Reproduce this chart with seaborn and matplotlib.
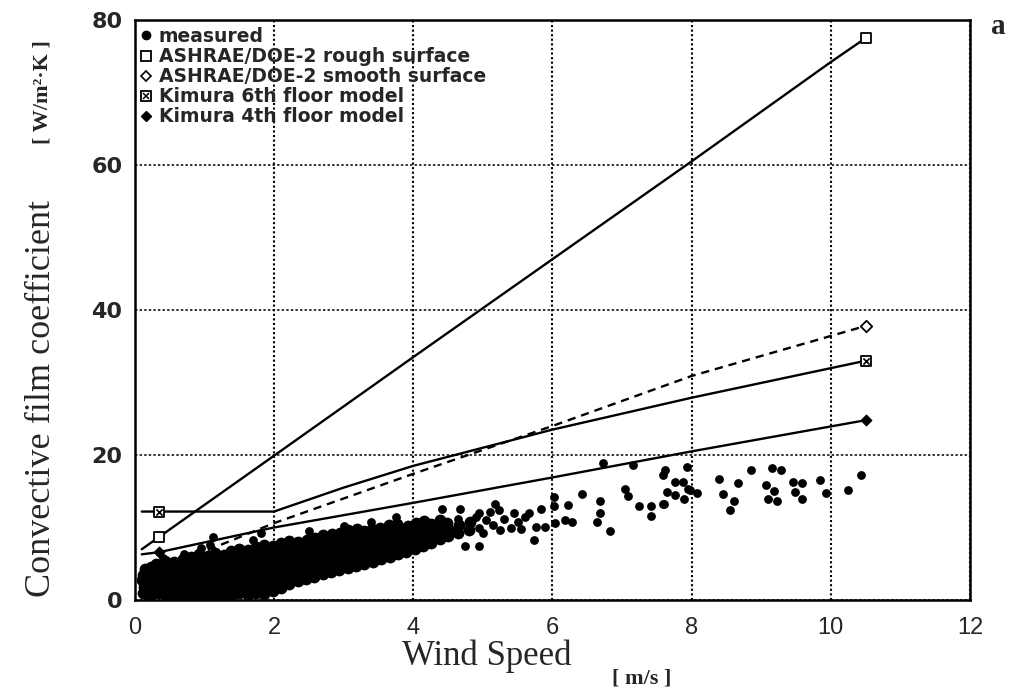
import matplotlib
matplotlib.use("Agg")
import matplotlib.pyplot as plt
from matplotlib.lines import Line2D
from matplotlib.legend_handler import HandlerTuple
from matplotlib.font_manager import FontProperties
import seaborn as sns

# ---------------- data ----------------
x_ticks = [0, 2, 4, 6, 8, 10, 12]
y_ticks = [0, 20, 40, 60, 80]

rough_x = [0.1, 0.35, 2.0, 4.0, 6.0, 8.0, 10.0, 10.5]
rough_y = [7.0, 8.7, 19.9, 33.5, 47.0, 60.5, 74.2, 77.5]
rough_mx = [0.35, 10.5]
rough_my = [8.7, 77.5]

smooth_x = [0.1, 0.35, 0.9, 2.0, 4.0, 6.0, 8.0, 10.5]
smooth_y = [3.4, 4.3, 6.3, 10.6, 17.4, 24.0, 30.9, 37.8]
smooth_mx = [0.35, 10.5]
smooth_my = [4.3, 37.8]

kim6_x = [0.1, 0.35, 2.0, 3.0, 4.0, 6.0, 8.0, 10.5]
kim6_y = [12.2, 12.2, 12.2, 15.5, 18.5, 23.5, 27.9, 33.0]
kim6_mx = [0.35, 10.5]
kim6_my = [12.2, 33.0]

kim4_x = [0.1, 0.35, 2.0, 4.0, 6.0, 8.0, 10.5]
kim4_y = [6.3, 6.6, 10.0, 13.4, 16.9, 20.5, 24.8]
kim4_mx = [0.35, 10.5]
kim4_my = [6.6, 24.8]

# measured points inside the dense, merged cloud (low wind speeds)
measured_dense_pts = [
    (0.12, 0.9), (0.13, 1.8), (0.11, 2.7), (0.12, 3.5), (0.14, 4.3),
    (0.22, 0.6), (0.21, 1.4), (0.23, 2.3), (0.22, 3.1), (0.20, 3.9), (0.23, 4.6),
    (0.33, 0.9), (0.34, 1.7), (0.32, 2.6), (0.33, 3.4), (0.35, 4.2), (0.31, 5.0),
    (0.45, 0.5), (0.44, 1.3), (0.46, 2.2), (0.45, 3.0), (0.43, 3.9), (0.46, 4.8), (0.44, 5.4),
    (0.57, 0.8), (0.58, 1.6), (0.56, 2.5), (0.57, 3.3), (0.59, 4.3), (0.56, 5.2),
    (0.68, 0.4), (0.69, 1.2), (0.67, 2.0), (0.68, 2.9), (0.70, 3.8), (0.67, 4.6), (0.69, 5.6),
    (0.80, 0.6), (0.81, 1.5), (0.79, 2.4), (0.80, 3.3), (0.82, 4.1), (0.79, 5.0), (0.81, 5.9),
    (0.92, 0.4), (0.93, 1.2), (0.91, 2.1), (0.92, 3.0), (0.94, 3.9), (0.91, 4.7), (0.93, 5.6), (0.92, 6.3),
    (1.04, 0.7), (1.05, 1.6), (1.03, 2.5), (1.04, 3.4), (1.06, 4.3), (1.03, 5.2), (1.05, 6.1),
    (1.15, 0.5), (1.16, 1.3), (1.14, 2.2), (1.15, 3.1), (1.17, 4.0), (1.14, 4.9), (1.16, 5.8), (1.15, 6.5),
    (1.27, 0.8), (1.28, 1.7), (1.26, 2.6), (1.27, 3.5), (1.29, 4.4), (1.26, 5.3), (1.28, 6.2),
    (1.38, 0.6), (1.39, 1.4), (1.37, 2.3), (1.38, 3.2), (1.40, 4.1), (1.37, 5.0), (1.39, 5.9), (1.38, 6.8),
    (1.50, 0.9), (1.51, 1.8), (1.49, 2.7), (1.50, 3.6), (1.52, 4.5), (1.49, 5.4), (1.51, 6.3), (1.50, 7.0),
    (1.62, 0.7), (1.63, 1.5), (1.61, 2.4), (1.62, 3.3), (1.64, 4.2), (1.61, 5.1), (1.63, 6.0), (1.62, 6.9),
    (1.74, 1.0), (1.75, 1.9), (1.73, 2.8), (1.74, 3.7), (1.76, 4.6), (1.73, 5.5), (1.75, 6.4), (1.74, 7.3),
    (1.86, 0.8), (1.87, 1.6), (1.85, 2.5), (1.86, 3.4), (1.88, 4.3), (1.85, 5.2), (1.87, 6.1), (1.86, 7.0), (1.85, 7.6),
    (1.98, 1.2), (1.99, 2.1), (1.97, 3.0), (1.98, 3.9), (2.00, 4.8), (1.97, 5.7), (1.99, 6.6), (1.98, 7.5),
    (2.10, 1.7), (2.11, 2.6), (2.09, 3.5), (2.10, 4.4), (2.12, 5.3), (2.09, 6.2), (2.11, 7.1), (2.10, 7.9),
    (2.22, 2.2), (2.23, 3.1), (2.21, 4.0), (2.22, 4.9), (2.24, 5.8), (2.21, 6.7), (2.23, 7.6), (2.22, 8.2),
    (2.34, 2.6), (2.35, 3.5), (2.33, 4.4), (2.34, 5.3), (2.36, 6.2), (2.33, 7.1), (2.35, 8.0),
    (2.46, 2.9), (2.47, 3.8), (2.45, 4.7), (2.46, 5.6), (2.48, 6.5), (2.45, 7.4), (2.47, 8.3),
    (2.58, 3.2), (2.59, 4.1), (2.57, 5.0), (2.58, 5.9), (2.60, 6.8), (2.57, 7.7), (2.59, 8.6),
    (2.70, 3.6), (2.71, 4.5), (2.69, 5.4), (2.70, 6.3), (2.72, 7.2), (2.69, 8.1), (2.71, 8.9),
    (2.82, 3.9), (2.83, 4.8), (2.81, 5.7), (2.82, 6.6), (2.84, 7.5), (2.81, 8.4), (2.83, 9.1),
    (2.94, 4.2), (2.95, 5.1), (2.93, 6.0), (2.94, 6.9), (2.96, 7.8), (2.93, 8.7), (2.95, 9.3),
    (3.06, 4.4), (3.07, 5.3), (3.05, 6.2), (3.06, 7.1), (3.08, 8.0), (3.05, 8.9), (3.07, 9.6),
    (3.18, 4.7), (3.19, 5.6), (3.17, 6.5), (3.18, 7.4), (3.20, 8.3), (3.17, 9.2), (3.19, 9.8),
    (3.30, 5.0), (3.31, 5.9), (3.29, 6.8), (3.30, 7.7), (3.32, 8.6), (3.29, 9.5),
    (3.42, 5.3), (3.43, 6.2), (3.41, 7.1), (3.42, 8.0), (3.44, 8.9), (3.41, 9.8),
    (3.54, 5.6), (3.55, 6.5), (3.53, 7.4), (3.54, 8.3), (3.56, 9.2), (3.53, 10.0),
    (3.66, 5.9), (3.67, 6.8), (3.65, 7.7), (3.66, 8.6), (3.68, 9.5), (3.65, 10.3),
    (3.78, 6.3), (3.79, 7.2), (3.77, 8.1), (3.78, 9.0), (3.80, 9.9), (3.77, 10.5),
    (3.90, 6.6), (3.91, 7.5), (3.89, 8.4), (3.90, 9.3), (3.92, 10.2),
    (4.02, 7.0), (4.03, 7.9), (4.01, 8.8), (4.02, 9.7), (4.04, 10.6),
    (4.14, 7.4), (4.15, 8.3), (4.13, 9.2), (4.14, 10.1), (4.16, 10.9),
    (4.26, 7.9), (4.27, 8.8), (4.25, 9.6), (4.26, 10.5),
    (4.38, 8.4), (4.39, 9.3), (4.37, 10.2), (4.38, 11.0),
    (4.50, 8.8), (4.51, 9.7), (4.49, 10.6),
    (4.65, 9.2), (4.66, 10.3),
    (4.80, 9.6), (4.81, 10.8),
]

# measured points that stand apart
measured_sparse_pts = [
    (4.64, 11.2),
    (1.12, 8.7), (1.08, 7.6), (0.70, 6.3), (1.70, 8.3), (1.81, 9.3), (0.95, 7.2),
    (0.40, 5.8), (2.50, 9.5), (3.00, 10.2), (3.40, 10.7), (3.75, 11.4),
    (4.41, 12.5), (4.67, 12.5), (4.94, 12.0), (5.17, 13.3), (5.23, 12.4),
    (5.66, 12.0), (5.83, 12.6), (6.02, 14.2), (6.02, 12.9), (6.22, 13.1),
    (4.75, 7.4), (4.94, 7.4), (5.73, 8.3), (6.04, 10.6), (6.18, 11.0),
    (6.28, 10.8), (5.90, 10.1), (5.76, 10.1),
    (4.95, 10.0), (5.05, 11.0), (5.15, 10.3), (5.30, 11.2), (5.40, 10.0),
    (5.50, 10.8), (5.60, 11.4), (5.00, 9.2), (5.25, 9.6), (4.90, 11.5),
    (5.45, 12.0), (5.55, 9.8), (5.10, 12.1),
    (6.42, 14.6), (6.68, 13.6), (6.69, 12.0), (6.64, 10.8), (6.83, 9.5),
    (6.72, 18.9), (7.04, 15.3), (7.08, 14.3), (7.16, 18.6), (7.24, 12.9),
    (7.41, 12.9), (7.41, 11.6), (7.60, 13.2), (7.62, 17.9), (7.59, 17.2),
    (7.64, 14.9), (7.76, 16.3), (7.88, 16.3), (7.89, 13.9), (7.76, 14.5),
    (7.95, 15.3), (7.94, 18.3), (7.59, 13.2), (7.98, 15.2), (8.08, 14.7),
    (8.39, 16.7), (8.45, 14.6), (8.67, 16.2), (8.61, 13.6), (8.55, 12.4),
    (8.85, 17.9), (9.15, 18.2), (9.29, 18.0), (9.07, 15.9), (9.19, 15.0),
    (9.10, 13.9), (9.22, 13.6), (9.46, 16.3), (9.58, 16.1), (9.48, 14.9),
    (9.58, 14.0), (9.85, 16.6), (9.93, 14.8), (10.24, 15.2), (10.44, 17.2),
]
dense_x = [p[0] for p in measured_dense_pts]
dense_y = [p[1] for p in measured_dense_pts]
sparse_x = [p[0] for p in measured_sparse_pts]
sparse_y = [p[1] for p in measured_sparse_pts]

labels = ["measured", "ASHRAE/DOE-2 rough surface", "ASHRAE/DOE-2 smooth surface",
          "Kimura 6th floor model", "Kimura 4th floor model"]

# ---------------- figure ----------------
sns.set_style("white")
plt.rcParams["font.family"] = ["DejaVu Sans"]

W, H = 1010, 697
fig = plt.figure(figsize=(W / 100, H / 100), dpi=100)
x0, x1, ytop, ybot = 134.8, 970.0, 20.0, 600.0
ax = fig.add_axes([x0 / W, (H - ybot) / H, (x1 - x0) / W, (ybot - ytop) / H])

lw = 1.7
sns.lineplot(x=rough_x, y=rough_y, ax=ax, color="black", lw=lw, estimator=None, sort=False, zorder=2)
sns.lineplot(x=smooth_x, y=smooth_y, ax=ax, color="black", lw=lw, estimator=None, sort=False,
             linestyle=(0, (3.5, 2.5)), zorder=2)
sns.lineplot(x=kim6_x, y=kim6_y, ax=ax, color="black", lw=lw, estimator=None, sort=False, zorder=2)
sns.lineplot(x=kim4_x, y=kim4_y, ax=ax, color="black", lw=lw, estimator=None, sort=False, zorder=2)

# smooth-surface start marker lies beneath the measured cloud
sns.scatterplot(x=smooth_mx, y=smooth_my, ax=ax, marker="D", s=34, facecolor="white",
                edgecolor="black", linewidth=1.3, zorder=2.5)

sns.scatterplot(x=dense_x, y=dense_y, ax=ax, color="black", s=72, linewidth=0,
                marker="o", zorder=3)
sns.scatterplot(x=sparse_x, y=sparse_y, ax=ax, color="black", s=40, linewidth=0,
                marker="o", zorder=3)

sns.scatterplot(x=rough_mx, y=rough_my, ax=ax, marker="s", s=44, facecolor="white",
                edgecolor="black", linewidth=1.3, zorder=4)
sns.scatterplot(x=kim6_mx, y=kim6_my, ax=ax, marker="s", s=44, facecolor="white",
                edgecolor="black", linewidth=1.3, zorder=4)
sns.scatterplot(x=kim6_mx, y=kim6_my, ax=ax, marker="x", s=20, color="black",
                linewidth=1.2, zorder=5)
sns.scatterplot(x=kim4_mx, y=kim4_my, ax=ax, marker="D", s=30, color="black",
                edgecolor="black", linewidth=0.8, zorder=4)

ax.set_xlim(0, 12)
ax.set_ylim(0, 80)
ax.set_xticks(x_ticks)
ax.set_yticks(y_ticks)
ax.set_xticklabels([str(t) for t in x_ticks])
ax.set_yticklabels([str(t) for t in y_ticks])
ax.set_xlabel("")
ax.set_ylabel("")

ax.xaxis.grid(True, color="black", linestyle=(0, (1.0, 1.2)), linewidth=1.5)
ax.yaxis.grid(True, color="black", linestyle=(0, (1.6, 1.4)), linewidth=1.1)
ax.set_axisbelow(True)

for sp in ax.spines.values():
    sp.set_visible(True)
    sp.set_color("black")
    sp.set_linewidth(1.8)
    sp.set_zorder(6)

ax.tick_params(axis="both", direction="out", length=8, width=1.3, color="black")
ax.tick_params(axis="x", pad=4.5)
ax.tick_params(axis="y", pad=1)
for t in ax.get_xticklabels():
    t.set_fontfamily("Liberation Sans")
    t.set_fontsize(17)
for t in ax.get_yticklabels():
    t.set_fontfamily("DejaVu Sans")
    t.set_fontweight("bold")
    t.set_fontsize(16)

# legend
h_meas = Line2D([], [], ls="none", marker="o", color="black", markersize=6)
h_rough = Line2D([], [], ls="none", marker="s", mfc="white", mec="black", mew=1.3, markersize=6.5)
h_smooth = Line2D([], [], ls="none", marker="D", mfc="white", mec="black", mew=1.2, markersize=5)
h_k6a = Line2D([], [], ls="none", marker="s", mfc="white", mec="black", mew=1.3, markersize=6.5)
h_k6b = Line2D([], [], ls="none", marker="x", color="black", mew=1.1, markersize=4.2)
h_k4 = Line2D([], [], ls="none", marker="D", color="black", markersize=5)
leg = ax.legend([h_meas, h_rough, h_smooth, (h_k6a, h_k6b), h_k4], labels,
                loc="upper left", bbox_to_anchor=(0.004, 1 - 7 / 580), frameon=False,
                prop=FontProperties(family="DejaVu Sans", weight="bold", size=13.5),
                handlelength=0.8, handletextpad=0.3, labelspacing=0.06,
                borderpad=0, borderaxespad=0,
                handler_map={tuple: HandlerTuple(ndivide=1)})
leg.set_zorder(7)

# axis titles
fig.text(487 / W, (H - 665) / H, "Wind Speed", family="Liberation Serif", fontsize=25,
         ha="center", va="baseline")
fig.text(612 / W, (H - 683) / H, "[ m/s ]", family="Liberation Serif", fontweight="bold",
         fontsize=16, ha="left", va="baseline")
fig.text(42 / W, (H - 398) / H, "Convective film coefficient", family="Liberation Serif",
         fontsize=26, rotation=90, ha="center", va="center")
fig.text(42 / W, (H - 92) / H, "[ W/m²·K ]", family="Liberation Serif", fontweight="bold",
         fontsize=16, rotation=90, ha="center", va="center")
fig.text(998 / W, (H - 26) / H, "a", family="Liberation Serif", fontweight="bold",
         fontsize=21, ha="center", va="center")

fig.savefig("out.png", dpi=100)
